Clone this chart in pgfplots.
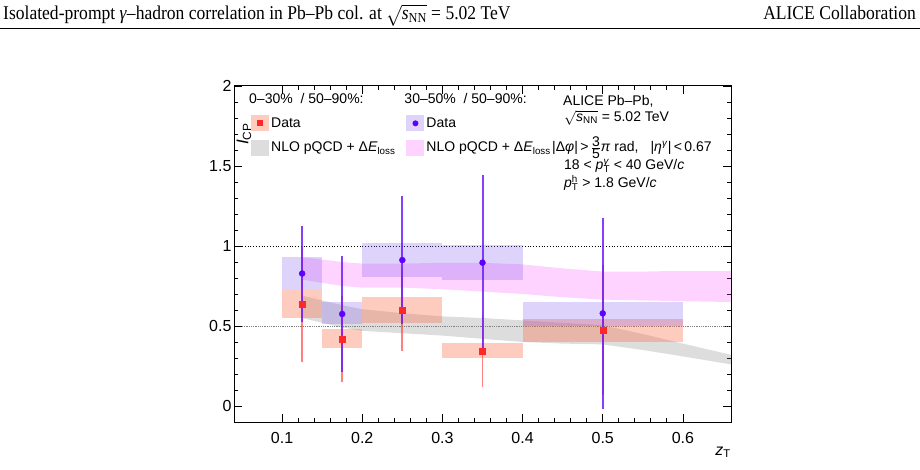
\documentclass[border=0pt]{standalone}
\usepackage{pgfplots}
\pgfplotsset{compat=1.18}
\usepackage{pgfplotstable}
\usepackage{fontspec}
\setmainfont{Liberation Sans}
\newfontfamily\serifhead{Liberation Serif}

% colours
\definecolor{sysred}{RGB}{250,110,70}
\definecolor{syspurple}{RGB}{120,80,240}
\definecolor{thpink}{RGB}{255,80,255}
\definecolor{thgrey}{RGB}{120,120,120}
\definecolor{datared}{RGB}{255,40,40}
\definecolor{datapurple}{RGB}{95,0,255}
\definecolor{errred}{RGB}{255,60,60}
\definecolor{errpurple}{RGB}{110,30,250}

\newcommand{\lgfont}{\fontsize{14}{16}\selectfont}
\newcommand{\tkfont}{\fontsize{16}{19}\selectfont}
\newcommand{\hdfont}{\serifhead\fontsize{19.5}{22}\selectfont}

% I_CP, 0-30% / 50-90%: value and statistical uncertainty
\pgfplotstableread{
x     y      stat
0.125 0.635  0.36
0.175 0.420  0.27
0.250 0.600  0.255
0.350 0.345  0.225
0.500 0.476  0.405
}\centraltab

% I_CP, 30-50% / 50-90%
\pgfplotstableread{
x     y      stat
0.125 0.828  0.30
0.175 0.575  0.36
0.250 0.912  0.40
0.350 0.896  0.55
0.500 0.579  0.595
}\semitab

% systematic-uncertainty box: colour, opacity, xlow, xhigh, ylow, yhigh
\newcommand{\sysbox}[6]{%
  \addplot[forget plot, draw=none, fill=#1, fill opacity=#2, mark=none]
    coordinates {(#3,#5) (#4,#5) (#4,#6) (#3,#6)};}

\begin{document}
\begin{tikzpicture}
\path[use as bounding box] (0pt,0pt) rectangle (920pt,469pt);

% running header (condensed serif)
\node[anchor=base west, inner sep=0pt, font=\hdfont]
  at (3pt,449.5pt) {\scalebox{0.9}[1]{Isolated-prompt \textit{γ}–hadron correlation in Pb–Pb col. at $\sqrt{\hbox{\textit{s}\textsubscript{NN}}}$\ =\ 5.02 TeV}};
\node[anchor=base east, inner sep=0pt, font=\hdfont]
  at (916pt,449.5pt) {\scalebox{0.9}[1]{ALICE Collaboration}};
\draw[line width=0.8pt] (0pt,441pt) -- (920pt,441pt);

\begin{axis}[
  at={(234pt,47pt)}, anchor=south west,
  scale only axis, width=497pt, height=336pt,
  xmin=0.04, xmax=0.66, ymin=-0.1, ymax=2,
  xtick={0.1,0.2,0.3,0.4,0.5,0.6},
  ytick={0,0.5,1,1.5,2},
  minor x tick num=4, minor y tick num=4,
  major tick length=8pt, minor tick length=4pt,
  tick align=inside, tick pos=both,
  axis line style={line width=1pt},
  every tick/.style={black, line width=0.8pt},
  tick label style={font=\tkfont},
  xticklabel style={yshift=-7pt},
  yticklabel style={xshift=1pt},
  /pgf/number format/assume math mode=true,
  xlabel={\textit{z}\textsubscript{T}},
  xlabel style={font=\fontsize{16}{19}\selectfont, inner sep=0pt, at={(rel axis cs:1,0)}, anchor=base east, yshift=-33pt},
  ylabel={\textit{I}\textsubscript{CP}},
  ylabel style={font=\fontsize{17}{20}\selectfont, at={(rel axis cs:0,1)}, anchor=center, xshift=-48pt, yshift=-10pt},
  legend columns=2,
  legend cell align=left,
  legend style={at={(rel axis cs:0,1)}, anchor=north west, xshift=14pt, yshift=-3pt,
    draw=none, fill=none, font=\lgfont, row sep=8.5pt,
    /tikz/every even column/.append style={column sep=9pt}},
]

% NLO pQCD + energy loss, 0-30%
\addplot[forget plot, draw=none, fill=thgrey, fill opacity=0.25] coordinates {
 (0.125,0.69) (0.15,0.66) (0.175,0.63) (0.2,0.605) (0.25,0.58) (0.3,0.56)
 (0.35,0.55) (0.4,0.535) (0.45,0.52) (0.5,0.505) (0.55,0.45) (0.6,0.39) (0.66,0.32)
 (0.66,0.26) (0.6,0.31) (0.55,0.35) (0.5,0.385) (0.45,0.39) (0.4,0.40) (0.35,0.42)
 (0.3,0.44) (0.25,0.455) (0.2,0.47) (0.175,0.49) (0.15,0.52) (0.125,0.55)};

% NLO pQCD + energy loss, 30-50%
\addplot[forget plot, draw=none, fill=thpink, fill opacity=0.25] coordinates {
 (0.125,0.93) (0.15,0.915) (0.175,0.90) (0.2,0.89) (0.25,0.89) (0.3,0.895)
 (0.35,0.895) (0.4,0.885) (0.45,0.86) (0.5,0.84) (0.55,0.84) (0.6,0.845) (0.66,0.845)
 (0.66,0.65) (0.6,0.655) (0.55,0.66) (0.5,0.665) (0.45,0.68) (0.4,0.70) (0.35,0.715)
 (0.3,0.73) (0.25,0.74) (0.2,0.74) (0.175,0.75) (0.15,0.77) (0.125,0.79)};

% reference lines
\addplot[forget plot, black, dotted, line width=0.8pt] coordinates {(0.05,1) (0.66,1)};
\addplot[forget plot, gray, densely dotted, line width=0.8pt] coordinates {(0.05,0.5) (0.66,0.5)};

% systematic uncertainties, 0-30%
\sysbox{sysred}{0.35}{0.10}{0.15}{0.552}{0.729}
\sysbox{sysred}{0.35}{0.15}{0.20}{0.365}{0.481}
\sysbox{sysred}{0.35}{0.20}{0.30}{0.521}{0.680}
\sysbox{sysred}{0.35}{0.30}{0.40}{0.300}{0.396}
\sysbox{sysred}{0.35}{0.40}{0.60}{0.400}{0.545}
% systematic uncertainties, 30-50%
\sysbox{syspurple}{0.25}{0.10}{0.15}{0.729}{0.931}
\sysbox{syspurple}{0.25}{0.15}{0.20}{0.510}{0.650}
\sysbox{syspurple}{0.25}{0.20}{0.30}{0.807}{1.018}
\sysbox{syspurple}{0.25}{0.30}{0.40}{0.788}{1.004}
\sysbox{syspurple}{0.25}{0.40}{0.60}{0.500}{0.650}

% statistical uncertainties
\addplot[forget plot, draw=none, mark=none,
  error bars/.cd, y dir=both, y explicit, error mark=none,
  error bar style={line width=1.8pt, errred, draw opacity=0.65}]
  table[x=x, y=y, y error=stat] {\centraltab};
\addplot[forget plot, draw=none, mark=none,
  error bars/.cd, y dir=both, y explicit, error mark=none,
  error bar style={line width=2pt, errpurple, draw opacity=0.85}]
  table[x=x, y=y, y error=stat] {\semitab};

% data points
\addplot[forget plot, only marks, mark=square*, mark size=3pt, datared, mark options={draw=none, fill=datared}]
  table[x=x, y=y] {\centraltab};
\addplot[forget plot, only marks, mark=*, mark size=3pt, datapurple, mark options={draw=none, fill=datapurple}]
  table[x=x, y=y] {\semitab};

% legend
\addlegendimage{legend image code/.code={}}
\addlegendentry{\hspace*{-22pt}0–30\%~ / 50–90\%:}
\addlegendimage{legend image code/.code={}}
\addlegendentry{\hspace*{-22pt}30–50\%~ / 50–90\%:}
\addlegendimage{legend image code/.code={%
  \path[draw=none, fill=sysred, fill opacity=0.35] (0pt,-8pt) rectangle (18pt,8pt);
  \path[draw=none, fill=datared] (6pt,-3pt) rectangle (12pt,3pt);}}
\addlegendentry{Data}
\addlegendimage{legend image code/.code={%
  \path[draw=none, fill=syspurple, fill opacity=0.25] (0pt,-8pt) rectangle (18pt,8pt);
  \path[draw=none, fill=datapurple] (9pt,0pt) circle (3pt);}}
\addlegendentry{Data}
\addlegendimage{legend image code/.code={%
  \path[draw=none, fill=thgrey, fill opacity=0.25] (0pt,-8pt) rectangle (18pt,8pt);}}
\addlegendentry{NLO pQCD + Δ\textit{E}\textsubscript{loss}}
\addlegendimage{legend image code/.code={%
  \path[draw=none, fill=thpink, fill opacity=0.25] (0pt,-8pt) rectangle (18pt,8pt);}}
\addlegendentry{NLO pQCD + Δ\textit{E}\textsubscript{loss}}
\end{axis}

% collision system and kinematic selection
\begin{scope}[every node/.style={anchor=base west, inner sep=0pt, font=\lgfont}]
\node at (563pt,363pt) {ALICE Pb–Pb,};
\node at (564pt,347.5pt) {$\sqrt{\hbox{\textit{s}\textsubscript{NN}}}$ = 5.02 TeV};
\node at (552pt,317pt) {|Δ\textit{φ}|\,>\,$\frac{\hbox{\lgfont 3}}{\hbox{\lgfont 5}}$\textit{π} rad,\hspace{12pt}|\textit{η}\textsuperscript{\textit{γ}}|\,<\,0.67};
\node at (564pt,299pt) {18 < \textit{p}\rlap{\textsuperscript{\textit{γ}}}\textsubscript{T} < 40 GeV/\textit{c}};
\node at (564pt,281pt) {\textit{p}\rlap{\textsuperscript{h}}\textsubscript{T} > 1.8 GeV/\textit{c}};
\end{scope}
\end{tikzpicture}
\end{document}
